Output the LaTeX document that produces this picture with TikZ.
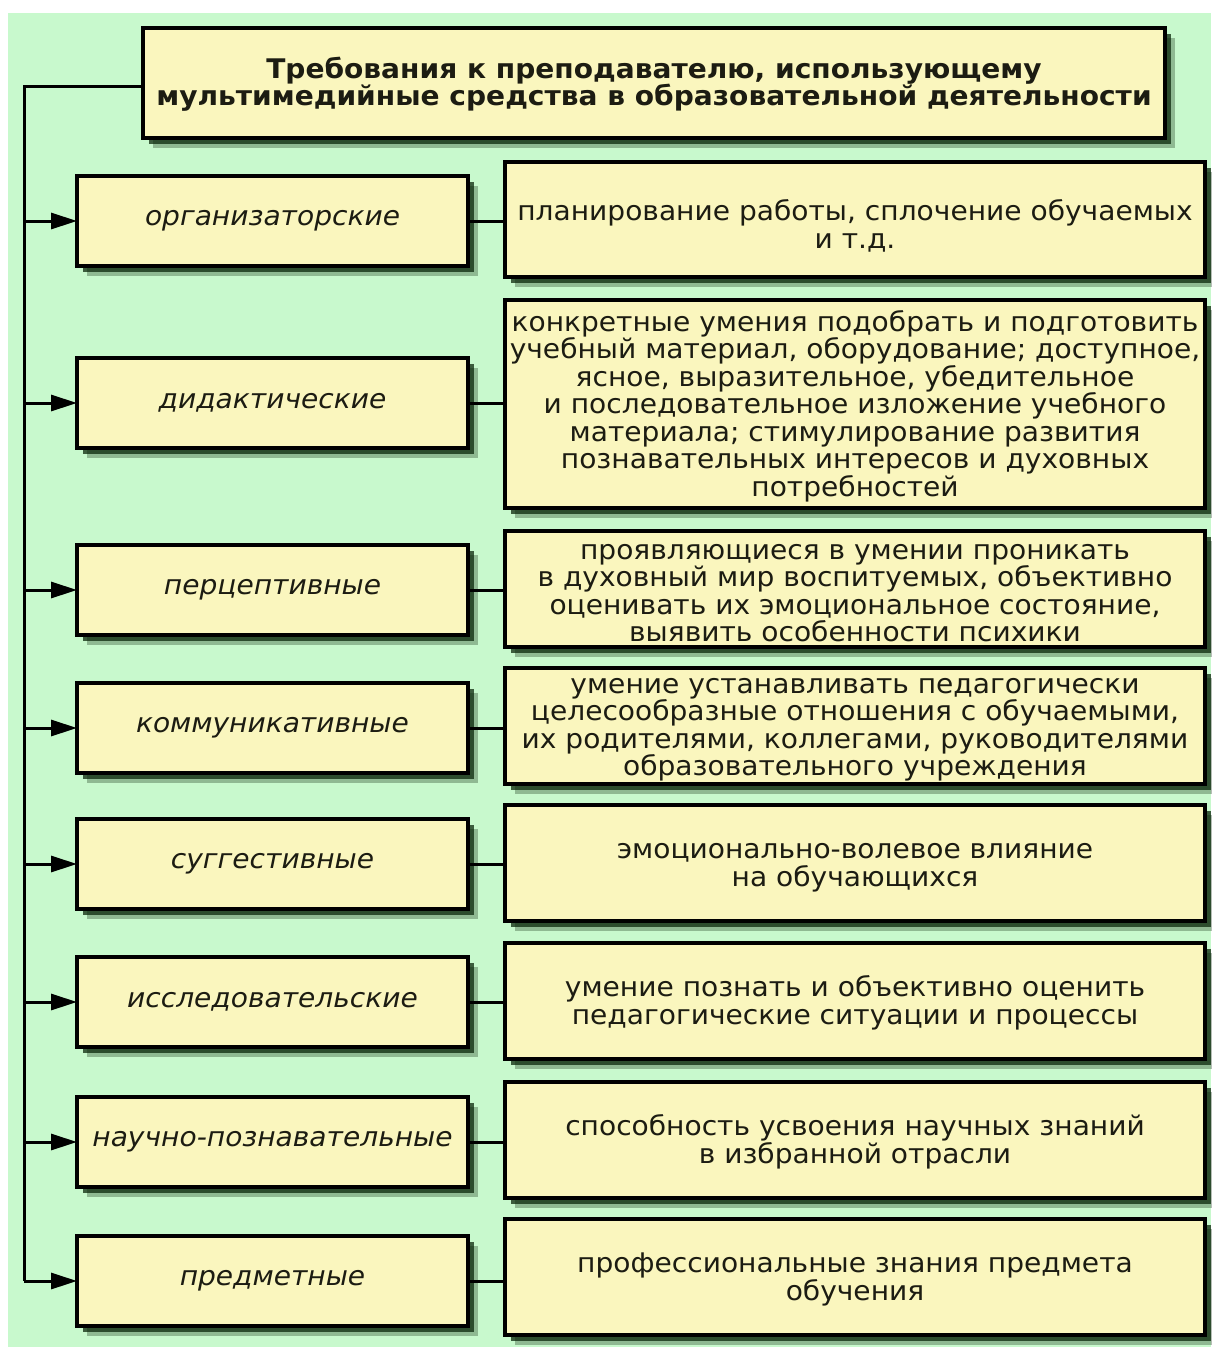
\documentclass[tikz,border=0pt]{standalone}
\usepackage{fontspec}
\setmainfont[FakeStretch=1.04]{DejaVu Sans}
\usetikzlibrary{arrows.meta,shadows}
\definecolor{bgc}{RGB}{200,249,205}
\definecolor{boxc}{RGB}{250,246,190}
\definecolor{shc}{RGB}{12,40,12}
\definecolor{txc}{RGB}{28,28,18}
\newcommand\txtdown[1]{\rule{0pt}{#1pt}}
\tikzset{
  bx/.style={draw=black, line width=4.5pt, fill=boxc, inner sep=0pt, outer sep=0pt,
    text=txc, align=center, anchor=north west,
    general shadow={shadow xshift=10pt, shadow yshift=-10pt, fill=shc, opacity=.3},
    general shadow={shadow xshift=6pt, shadow yshift=-6pt, fill=shc, opacity=.75},
    font=\fontsize{27}{27.5}\selectfont},
  lbox/.style={bx, minimum width=391pt, minimum height=90pt, font=\fontsize{27}{27.5}\selectfont\itshape},
  rbox/.style={bx, minimum width=700pt},
  tbox/.style={bx, minimum width=1022pt, minimum height=110pt, font=\fontsize{27}{27.5}\selectfont\bfseries},
  arr/.style={line width=3pt, -{Triangle[length=26pt,width=16pt]}},
  ln/.style={line width=3pt}
}
\begin{document}
\begin{tikzpicture}[x=1pt,y=-1pt]
\useasboundingbox (0,0) rectangle (1211,1347);
\fill[bgc] (8,13) rectangle (1211,1347);
\node[tbox] (t) at (143,28) {\txtdown{24}Требования к преподавателю, использующему\\мультимедийные средства в образовательной деятельности};
\coordinate (sp) at (24,86);
\coordinate (spb) at (24,1281);
% left boxes
\node[lbox] (l1) at (77,176) {организаторские};
\node[lbox] (l2) at (77,358) {дидактические};
\node[lbox] (l3) at (77,545) {перцептивные};
\node[lbox] (l4) at (77,683) {коммуникативные};
\node[lbox] (l5) at (77,819) {суггестивные};
\node[lbox] (l6) at (77,957) {исследовательские};
\node[lbox] (l7) at (77,1097) {научно-познавательные};
\node[lbox] (l8) at (77,1236) {предметные};
% right boxes
\node[rbox, minimum height=115pt] (r1) at (505,162) {\txtdown{34}планирование работы, сплочение обучаемых\\и т.д.};
\node[rbox, minimum height=208pt] (r2) at (505,300) {\txtdown{25}конкретные умения подобрать и подготовить\\учебный материал, оборудование; доступное,\\ясное, выразительное, убедительное\\и последовательное изложение учебного\\материала; стимулирование развития\\познавательных интересов и духовных\\потребностей};
\node[rbox, minimum height=116pt] (r3) at (505,531) {\txtdown{23}проявляющиеся в умении проникать\\в духовный мир воспитуемых, объективно\\оценивать их эмоциональное состояние,\\выявить особенности психики};
\node[rbox, minimum height=116pt] (r4) at (505,668) {\txtdown{23}умение устанавливать педагогически\\целесообразные отношения с обучаемыми,\\их родителями, коллегами, руководителями\\образовательного учреждения};
\node[rbox, minimum height=116pt] (r5) at (505,805) {\txtdown{25}эмоционально-волевое влияние\\на обучающихся};
\node[rbox, minimum height=116pt] (r6) at (505,943) {\txtdown{25}умение познать и объективно оценить\\педагогические ситуации и процессы};
\node[rbox, minimum height=116pt] (r7) at (505,1082) {\txtdown{25}способность усвоения научных знаний\\в избранной отрасли};
\node[rbox, minimum height=116pt] (r8) at (505,1219) {\txtdown{25}профессиональные знания предмета\\обучения};
% spine
\draw[ln] (t.west |- sp) -- (sp) -- (spb);
\foreach \i in {1,...,8}{
  \draw[arr] (sp |- l\i.west) -- (l\i.west);
  \draw[ln] (l\i.east) -- (l\i.east -| r\i.west);
}
\end{tikzpicture}
\end{document}
